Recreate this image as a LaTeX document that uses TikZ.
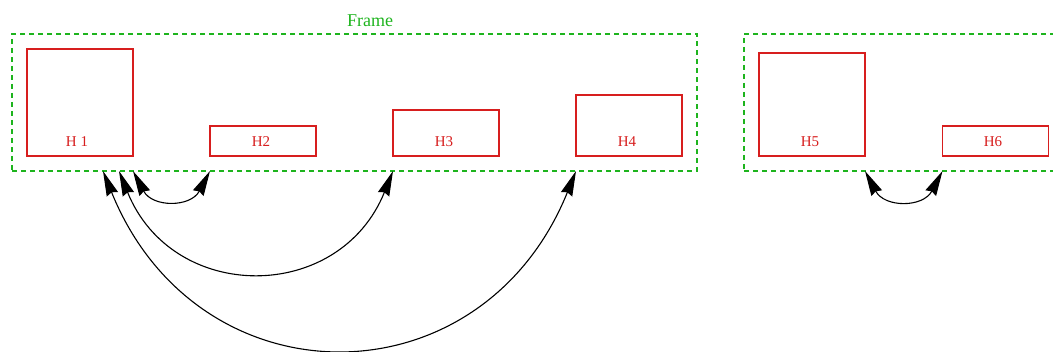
\documentclass[tikz,border=0pt]{standalone}
\usepackage{fontspec}
\setmainfont{Liberation Serif}
\usetikzlibrary{arrows.meta}
\definecolor{boxred}{RGB}{215,30,30}
\definecolor{framegreen}{RGB}{30,180,30}
\begin{document}
\begin{tikzpicture}[x=1pt,y=-1pt,
  framebox/.style={draw=framegreen,line width=1.3pt,dash pattern=on 5pt off 4pt,
    inner sep=0pt,outer sep=0pt},
  hbox/.style={draw=boxred,line width=1.1pt,inner sep=0pt,outer sep=0pt,
    minimum width=106pt},
  hlabel/.style={text=boxred,font=\fontsize{15}{17}\selectfont,inner sep=0pt,anchor=base},
  link/.style={line width=1.1pt,
    {Stealth[length=25pt,width=12pt,inset=2pt]}-{Stealth[length=25pt,width=12pt,inset=2pt]}}]
\useasboundingbox (0,0) rectangle (1053,352);

% frames
\node[framebox,minimum width=685pt,minimum height=137pt] (fr1) at (354.5,102.5) {};
\node[framebox,minimum width=330pt,minimum height=137pt] (fr2) at (909,102.5) {};
\node[text=framegreen,font=\fontsize{18}{21}\selectfont,inner sep=0pt,anchor=base] (frlabel) at (370,27) {Frame};

% boxes
\node[hbox,minimum height=107pt] (h1) at (80,102.5) {};
\node[hbox,minimum height=30pt] (h2) at (263,141) {};
\node[hbox,minimum height=46pt] (h3) at (446,133) {};
\node[hbox,minimum height=61pt] (h4) at (629,125.5) {};
\node[hbox,minimum height=103pt] (h5) at (812,104.5) {};
\node[hbox,minimum height=30pt] (h6) at (995.5,141) {};

\node[hlabel] (l1) at (77,146.5) {H 1};
\node[hlabel] (l2) at (261,146.5) {H2};
\node[hlabel] (l3) at (444,146.5) {H3};
\node[hlabel] (l4) at (627,146.5) {H4};
\node[hlabel] (l5) at (810,146.5) {H5};
\node[hlabel] (l6) at (993,146.5) {H6};

% link end points on the frame edges
\coordinate (a1) at (h1.east |- fr1.south);
\coordinate (a2) at (119,171);
\coordinate (a3) at (103,171);
\coordinate (b2) at (h2.west |- fr1.south);
\coordinate (b3) at (h3.west |- fr1.south);
\coordinate (b4) at (h4.west |- fr1.south);
\coordinate (b5) at (h5.east |- fr2.south);
\coordinate (b6) at (h6.west |- fr2.south);

% links
\draw[link] (a1) to[out=-62,in=-118,looseness=1.38] (b2);
\draw[link] (a2) to[out=-68,in=-112,looseness=1.34] (b3);
\draw[link] (a3) to[out=-68,in=-112,looseness=1.37] (b4);
\draw[link] (b5) to[out=-62,in=-118,looseness=1.38] (b6);
\end{tikzpicture}
\end{document}
